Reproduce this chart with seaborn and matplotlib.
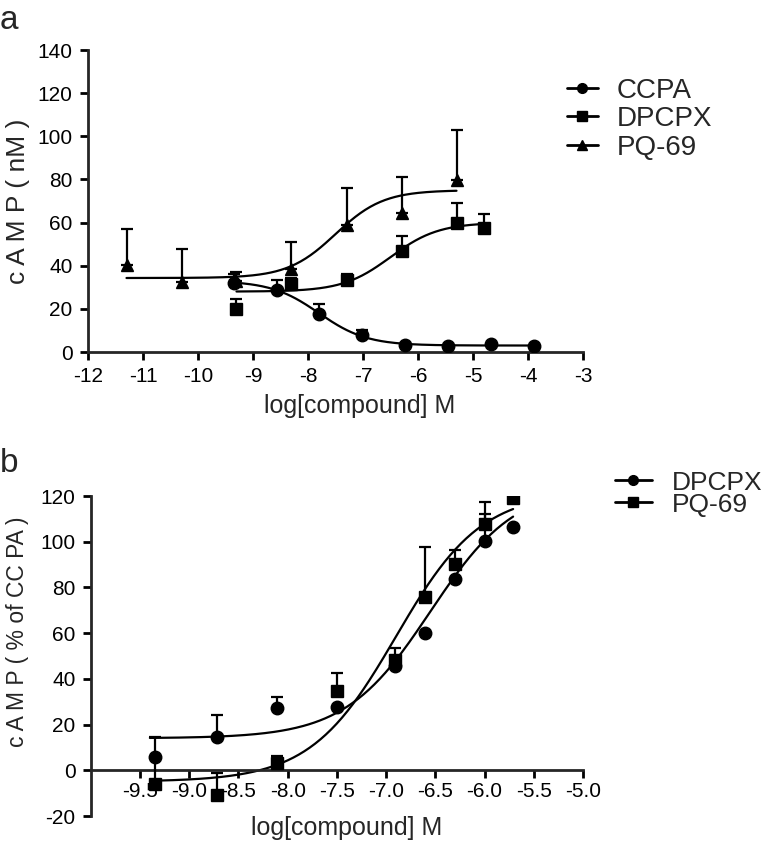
import numpy as np
import pandas as pd
import matplotlib
matplotlib.use("Agg")
import matplotlib.pyplot as plt
from matplotlib.lines import Line2D
import seaborn as sns

# ---- panel a data (cAMP nM) ----
ccpa_x = [-9.35, -8.57, -7.8, -7.02, -6.24, -5.46, -4.68, -3.9]
ccpa_y = [32.0, 28.6, 17.8, 7.7, 3.4, 2.8, 3.5, 2.6]
ccpa_err = [4.0, 5.0, 4.6, 2.7, 0, 0, 0, 0]

dpcpx_x = [-9.3, -8.3, -7.3, -6.3, -5.3, -4.8]
dpcpx_y = [20.1, 31.4, 33.2, 46.8, 59.8, 57.7]
dpcpx_err = [4.3, 3.0, 3.1, 6.8, 9.2, 6.1]

pq_x = [-11.3, -10.3, -9.3, -8.3, -7.3, -6.3, -5.3]
pq_y = [40.2, 32.5, 33.0, 38.6, 58.7, 64.4, 79.7]
pq_err = [17.0, 15.4, 4.0, 12.4, 17.1, 16.6, 23.3]

# ---- panel b data (% of CCPA) ----
b_dpcpx_x = [-9.35, -8.72, -8.11, -7.5, -6.91, -6.6, -6.3, -6.0, -5.71]
b_dpcpx_y = [5.9, 14.4, 27.2, 27.7, 45.8, 60.0, 83.7, 100.4, 106.6]
b_dpcpx_err = [8.5, 10.0, 5.0, 0, 0, 0, 0, 11.6, 0]

b_pq_x = [-9.35, -8.72, -8.11, -7.5, -6.91, -6.6, -6.3, -6.0, -5.71]
b_pq_y = [-6.2, -11.0, 3.4, 34.6, 48.4, 75.7, 90.2, 107.7, 119.0]
b_pq_err = [12.0, 10.0, 3.0, 8.0, 5.0, 22.0, 6.0, 9.5, 0]

# fitted sigmoid parameters: bottom, top, logEC50, hill, x range
fit_a = {
    "CCPA": (3.0, 33.0, -7.8, -1.0, -9.35, -3.9),
    "DPCPX": (28.0, 60.0, -6.5, 1.0, -9.3, -4.8),
    "PQ-69": (34.3, 75.0, -7.5, 1.0, -11.3, -5.3),
}
fit_b = {
    "DPCPX": (14.0, 125.0, -6.55, 1.0, -9.4, -5.71),
    "PQ-69": (-5.0, 122.0, -6.9, 1.0, -9.35, -5.71),
}


def curve_frame(params):
    rows = []
    for name, (bot, top, ec, hill, x0, x1) in params.items():
        xs = np.linspace(x0, x1, 200)
        ys = bot + (top - bot) / (1 + 10 ** ((ec - xs) * hill))
        rows.append(pd.DataFrame({"x": xs, "y": ys, "series": name}))
    return pd.concat(rows, ignore_index=True)


sns.set_style("ticks")
plt.rcParams["font.family"] = ["Liberation Sans", "DejaVu Sans"]
plt.rcParams["axes.linewidth"] = 2
plt.rcParams["axes.unicode_minus"] = False

W, H = 780, 842
fig = plt.figure(figsize=(7.8, 8.42), dpi=100)
ax1 = fig.add_axes([88 / W, 1 - 352 / H, 495 / W, 302 / H])
ax2 = fig.add_axes([90.8 / W, 1 - 816 / H, 492.2 / W, 320 / H])

ms = {"o": 9, "s": 8.5, "^": 9}


def draw_points(ax, x, y, err, marker):
    ax.errorbar(x, y, yerr=[np.zeros(len(err)), err], fmt="none",
                ecolor="black", elinewidth=1.6, capsize=4.5, capthick=1.6, zorder=3)
    ax.plot(x, y, linestyle="none", marker=marker, markersize=ms[marker],
            color="black", zorder=4)


# ---- panel a ----
sns.lineplot(data=curve_frame(fit_a), x="x", y="y", units="series", estimator=None,
             color="black", linewidth=1.6, ax=ax1, legend=False)
draw_points(ax1, ccpa_x, ccpa_y, ccpa_err, "o")
draw_points(ax1, dpcpx_x, dpcpx_y, dpcpx_err, "s")
draw_points(ax1, pq_x, pq_y, pq_err, "^")
ax1.set_xlim(-12, -3)
ax1.set_ylim(0, 140)
ax1.set_xticks(range(-12, -2))
ax1.set_yticks(range(0, 141, 20))
ax1.set_xlabel("")
ax1.set_ylabel("")

# ---- panel b ----
sns.lineplot(data=curve_frame(fit_b), x="x", y="y", units="series", estimator=None,
             color="black", linewidth=1.6, ax=ax2, legend=False)
draw_points(ax2, b_dpcpx_x, b_dpcpx_y, b_dpcpx_err, "o")
draw_points(ax2, b_pq_x, b_pq_y, b_pq_err, "s")
ax2.set_xlim(-10, -5)
ax2.set_ylim(-20, 120)
ax2.spines["bottom"].set_position(("data", 0))
xt = np.arange(-9.5, -4.9, 0.5)
ax2.set_xticks(xt)
ax2.set_xticklabels([f"{v:.1f}" for v in xt])
ax2.set_yticks(range(-20, 121, 20))
ax2.set_xlabel("")
ax2.set_ylabel("")

for ax in (ax1, ax2):
    sns.despine(ax=ax)
    ax.tick_params(width=2, length=6, labelsize=15, colors="black")
    ax.tick_params(axis="y", pad=5)
ax1.tick_params(axis="x", pad=5)
ax2.tick_params(axis="x", pad=2.5)

# axis titles
fig.text(360 / W, 1 - 413 / H, "log[compound] M", ha="center", va="baseline", fontsize=18)
fig.text(347 / W, 1 - 835 / H, "log[compound] M", ha="center", va="baseline", fontsize=18)
fig.text(18 / W, 1 - 201 / H, "c A M P ( nM )", ha="center", va="center",
         rotation=90, fontsize=19)
fig.text(18 / W, 1 - 632 / H, "c A M P ( % of CC PA )", ha="center", va="center",
         rotation=90, fontsize=16.5)
fig.text(0, 1 - 29 / H, "a", ha="left", va="baseline", fontsize=24)
fig.text(0, 1 - 472 / H, "b", ha="left", va="baseline", fontsize=24)


def handle(marker):
    return Line2D([], [], color="black", lw=2, marker=marker, markersize=7)


fig.legend([handle("o"), handle("s"), handle("^")], ["CCPA", "DPCPX", "PQ-69"],
           loc="upper left", bbox_to_anchor=(567 / W, 1 - 77.5 / H), frameon=False,
           fontsize=20, borderpad=0, borderaxespad=0, handlelength=1.1,
           handletextpad=0.7, labelspacing=0.09)
fig.legend([handle("o"), handle("s")], ["DPCPX", "PQ-69"],
           loc="upper left", bbox_to_anchor=(615 / W, 1 - 470.5 / H), frameon=False,
           fontsize=19, borderpad=0, borderaxespad=0, handlelength=1.4,
           handletextpad=0.76, labelspacing=-0.07)

fig.savefig("out.png", dpi=100)
